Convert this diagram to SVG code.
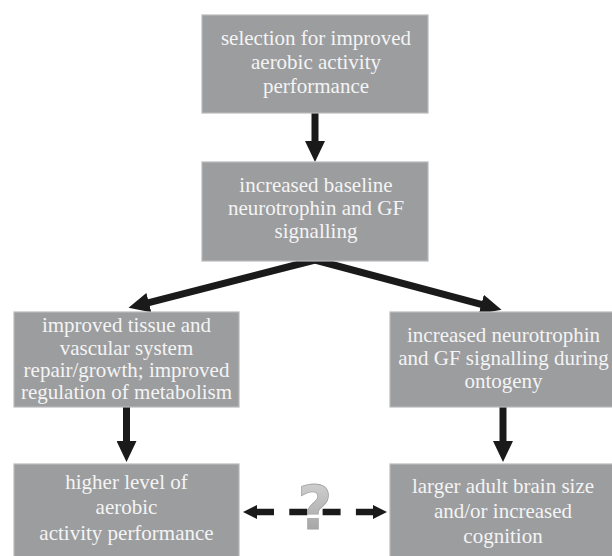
<svg xmlns="http://www.w3.org/2000/svg" width="612" height="556" viewBox="0 0 612 556">
<style>
.box{fill:#9c9d9f;stroke:#b9babc;stroke-width:1.2}
.lbl{font-family:'Liberation Serif','Times New Roman',Times,'DejaVu Serif',serif;font-size:21px;fill:#f4f4f4;text-anchor:middle}
.con{stroke:#1a1a1a;stroke-width:7;fill:none}
.dash{stroke:#1a1a1a;stroke-width:6.5;fill:none;stroke-dasharray:18 15.3}
</style>
<defs>
<marker id="head" viewBox="0 0 21 20" refX="1" refY="10" markerWidth="21" markerHeight="20" markerUnits="userSpaceOnUse" orient="auto">
<path d="M0,0 L21,10 L0,20 z" fill="#1a1a1a"/>
</marker>
<marker id="dhead" viewBox="0 0 14 14" refX="1" refY="7" markerWidth="14" markerHeight="14" markerUnits="userSpaceOnUse" orient="auto-start-reverse">
<path d="M0,0 L14,7 L0,14 z" fill="#1a1a1a"/>
</marker>
<linearGradient id="qg" x1="0" y1="0" x2="0" y2="1">
<stop offset="0" stop-color="#d6d6d6"/>
<stop offset="0.6" stop-color="#b4b4b4"/>
<stop offset="1" stop-color="#9a9a9a"/>
</linearGradient>
</defs>
<rect width="612" height="556" fill="#ffffff"/>

<g id="connectors">
<line class="con" x1="315" y1="113" x2="315" y2="142" marker-end="url(#head)"/>
<line class="con" x1="315" y1="260" x2="147.9" y2="302.9" marker-end="url(#head)"/>
<line class="con" x1="315" y1="260" x2="482.2" y2="304.7" marker-end="url(#head)"/>
<line class="con" x1="126.5" y1="407" x2="126.5" y2="442" marker-end="url(#head)"/>
<line class="con" x1="503" y1="407" x2="503" y2="442" marker-end="url(#head)"/>
<line class="dash" x1="256" y1="512" x2="374" y2="512" marker-start="url(#dhead)" marker-end="url(#dhead)"/>
<text x="315" y="529" font-family="'DejaVu Sans',sans-serif" font-weight="bold" font-size="60" text-anchor="middle" fill="url(#qg)" stroke="#a3a3a3" stroke-width="0.8">?</text>
</g>

<g id="n1" font-family="Liberation Serif, serif">
<rect class="box" x="202" y="15" width="226" height="98"/>
<text class="lbl" x="316" y="45">selection for improved</text>
<text class="lbl" x="316" y="69">aerobic activity</text>
<text class="lbl" x="316" y="93">performance</text>
</g>

<g id="n2" font-family="Liberation Serif, serif">
<rect class="box" x="202" y="162" width="226" height="99"/>
<text class="lbl" x="316" y="192">increased baseline</text>
<text class="lbl" x="316" y="215">neurotrophin and GF</text>
<text class="lbl" x="316" y="238">signalling</text>
</g>

<g id="n3" font-family="Liberation Serif, serif">
<rect class="box" x="14" y="312" width="225" height="95"/>
<text class="lbl" x="126.5" y="332">improved tissue and</text>
<text class="lbl" x="126.5" y="354.5">vascular system</text>
<text class="lbl" x="126.5" y="377">repair/growth; improved</text>
<text class="lbl" x="126.5" y="399">regulation of metabolism</text>
</g>

<g id="n4" font-family="Liberation Serif, serif">
<rect class="box" x="390" y="312" width="226" height="95"/>
<text class="lbl" x="503.5" y="342">increased neurotrophin</text>
<text class="lbl" x="503.5" y="365">and GF signalling during</text>
<text class="lbl" x="503.5" y="388">ontogeny</text>
</g>

<g id="n5" font-family="Liberation Serif, serif">
<rect class="box" x="14" y="464" width="225" height="96"/>
<text class="lbl" x="126.5" y="489">higher level of</text>
<text class="lbl" x="126.5" y="514">aerobic</text>
<text class="lbl" x="126.5" y="540">activity performance</text>
</g>

<g id="n6" font-family="Liberation Serif, serif">
<rect class="box" x="390" y="464" width="226" height="96"/>
<text class="lbl" x="503" y="493">larger adult brain size</text>
<text class="lbl" x="503" y="518">and/or increased</text>
<text class="lbl" x="503" y="543">cognition</text>
</g>
</svg>
